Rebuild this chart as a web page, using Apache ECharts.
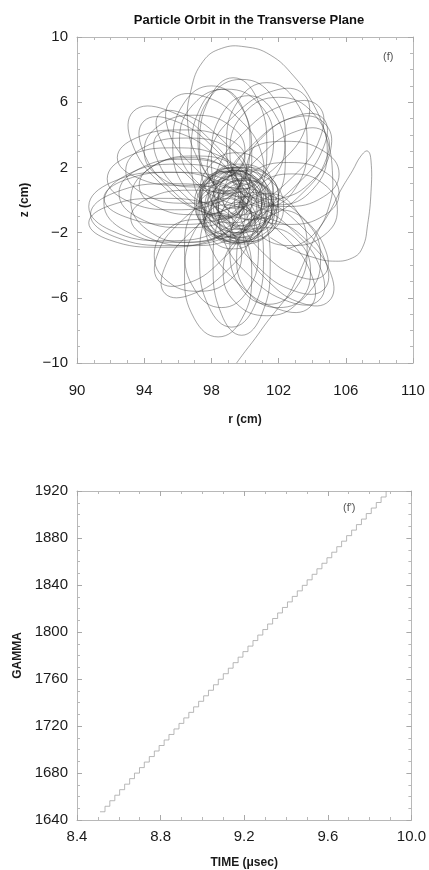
<!DOCTYPE html>
<html><head><meta charset="utf-8">
<script src="https://cdn.jsdelivr.net/npm/echarts@6/dist/echarts.min.js"></script>
<style>html,body{margin:0;padding:0;background:#fff}#c{width:429px;height:870px}</style>
</head><body><div id="c"></div>
<script>
// ---------- Data ----------
const rRange = [90, 110];           // r (cm) axis
const zRange = [-10, 10];           // z (cm) axis
const timeRange = [8.4, 10.0];      // TIME (usec) axis
const gammaRange = [1640, 1920];    // GAMMA axis

// orbit: core rings around the closed orbit (r, z in cm)
const coreLoops = [
 [[100.8,-0.2],[100.45,0.8],[99.6,1.2],[98.75,0.8],[98.4,-0.2],[98.75,-1.2],[99.6,-1.6],[100.45,-1.2]],
 [[101.0,0],[100.53,1.27],[99.4,1.8],[98.27,1.27],[97.8,0],[98.27,-1.27],[99.4,-1.8],[100.53,-1.27]],
 [[101.6,-0.4],[101.07,1.01],[99.8,1.6],[98.53,1.01],[98.0,-0.4],[98.53,-1.81],[99.8,-2.4],[101.07,-1.81]],
 [[101.6,-0.3],[100.98,1.33],[99.5,2.0],[98.02,1.33],[97.4,-0.3],[98.02,-1.93],[99.5,-2.6],[100.98,-1.93]],
 [[102.0,0.1],[101.33,1.58],[99.7,2.2],[98.07,1.58],[97.4,0.1],[98.07,-1.38],[99.7,-2.0],[101.33,-1.38]],
 [[101.3,-0.5],[100.71,1.27],[99.3,2.0],[97.89,1.27],[97.3,-0.5],[97.89,-2.27],[99.3,-3.0],[100.71,-2.27]],
 [[101.4,-0.1],[100.96,1.46],[99.9,2.1],[98.84,1.46],[98.4,-0.1],[98.84,-1.66],[99.9,-2.3],[100.96,-1.66]],
 [[102.0,-0.6],[101.3,0.74],[99.6,1.3],[97.9,0.74],[97.2,-0.6],[97.9,-1.94],[99.6,-2.5],[101.3,-1.94]],
 [[101.1,0.2],[100.54,1.33],[99.2,1.8],[97.86,1.33],[97.3,0.2],[97.86,-0.93],[99.2,-1.4],[100.54,-0.93]],
 [[101.7,-0.3],[101.2,0.76],[100.0,1.2],[98.8,0.76],[98.3,-0.3],[98.8,-1.36],[100.0,-1.8],[101.2,-1.36]],
 [[101.7,0.3],[101.06,2.14],[99.5,2.9],[97.94,2.14],[97.3,0.3],[97.94,-1.54],[99.5,-2.3],[101.06,-1.54]],
 [[101.2,-0.8],[100.79,0.47],[99.8,1.0],[98.81,0.47],[98.4,-0.8],[98.81,-2.07],[99.8,-2.6],[100.79,-2.07]],
 [[101.3,1.5],[100.0,1.8],[98.47,0.93],[97.6,-0.6],[97.9,-1.9],[99.2,-2.2],[100.73,-1.33],[101.6,0.2]],
 [[101.27,-2.17],[101.6,-0.8],[100.7,0.8],[99.1,1.7],[97.73,1.37],[97.4,0.0],[98.3,-1.6],[99.9,-2.5]],
 [[100.7,-0.1],[100.32,1.24],[99.4,1.8],[98.48,1.24],[98.1,-0.1],[98.48,-1.44],[99.4,-2.0],[100.32,-1.44]],
 [[102.3,-0.4],[101.54,1.16],[99.7,1.8],[97.86,1.16],[97.1,-0.4],[97.86,-1.96],[99.7,-2.6],[101.54,-1.96]],
 [[101.0,-0.6],[100.5,0.88],[99.3,1.5],[98.1,0.88],[97.6,-0.6],[98.1,-2.08],[99.3,-2.7],[100.5,-2.08]],
 [[102.0,0.2],[101.44,1.47],[100.1,2.0],[98.76,1.47],[98.2,0.2],[98.76,-1.07],[100.1,-1.6],[101.44,-1.07]],
 [[101.0,-0.2],[100.41,1.14],[99.0,1.7],[97.59,1.14],[97.0,-0.2],[97.59,-1.54],[99.0,-2.1],[100.41,-1.54]],
 [[101.9,-1.0],[101.31,0.2],[99.9,0.7],[98.49,0.2],[97.9,-1.0],[98.49,-2.2],[99.9,-2.7],[101.31,-2.2]],
 [[100.96,1.06],[99.8,1.3],[98.41,0.49],[97.6,-0.9],[97.84,-2.06],[99.0,-2.3],[100.39,-1.49],[101.2,-0.1]],
 [[101.43,-1.63],[101.7,-0.4],[100.86,1.06],[99.4,1.9],[98.17,1.63],[97.9,0.4],[98.74,-1.06],[100.2,-1.9]]
];

// orbit: loops reaching out to the left
const leftLoops = [
 [[100.4,-0.9],[98.99,0.44],[95.6,1.0],[92.21,0.44],[90.8,-0.9],[92.21,-2.24],[95.6,-2.8],[98.99,-2.24]],
 [[100.4,-0.2],[99.11,1.5],[96.0,2.2],[92.89,1.5],[91.6,-0.2],[92.89,-1.9],[96.0,-2.6],[99.11,-1.9]],
 [[100.3,0.4],[99.16,1.88],[96.4,2.5],[93.64,1.88],[92.5,0.4],[93.64,-1.08],[96.4,-1.7],[99.16,-1.08]],
 [[100.4,-1.1],[99.35,0.1],[96.8,0.6],[94.25,0.1],[93.2,-1.1],[94.25,-2.3],[96.8,-2.8],[99.35,-2.3]],
 [[100.3,0.9],[99.33,2.17],[97.0,2.7],[94.67,2.17],[93.7,0.9],[94.67,-0.37],[97.0,-0.9],[99.33,-0.37]],
 [[100.2,0.1],[98.94,1.23],[95.9,1.7],[92.86,1.23],[91.6,0.1],[92.86,-1.03],[95.9,-1.5],[98.94,-1.03]],
 [[99.9,-0.4],[98.55,1.08],[95.3,1.7],[92.05,1.08],[90.7,-0.4],[92.05,-1.88],[95.3,-2.5],[98.55,-1.88]],
 [[99.3,-1.4],[98.04,-0.34],[95.0,0.1],[91.96,-0.34],[90.7,-1.4],[91.96,-2.46],[95.0,-2.9],[98.04,-2.46]],
 [[100.0,0.0],[99.0,1.84],[96.6,2.6],[94.2,1.84],[93.2,0.0],[94.2,-1.84],[96.6,-2.6],[99.0,-1.84]]
];

// orbit: loops reaching upward (upper-left, up, upper-right)
const upperLoops = [
 [[99.63,-0.83],[99.7,0.9],[98.07,3.27],[95.7,4.9],[93.97,4.83],[93.9,3.1],[95.53,0.73],[97.9,-0.9]],
 [[99.6,-0.8],[99.65,0.65],[98.26,2.66],[96.25,4.05],[94.8,4.0],[94.75,2.55],[96.14,0.54],[98.15,-0.85]],
 [[99.44,-0.64],[99.55,1.25],[97.81,3.81],[95.25,5.55],[93.36,5.44],[93.25,3.55],[94.99,0.99],[97.55,-0.75]],
 [[100.1,1.8],[99.05,3.21],[96.5,3.8],[93.95,3.21],[92.9,1.8],[93.95,0.39],[96.5,-0.2],[99.05,0.39]],
 [[99.8,1.3],[98.63,2.64],[95.8,3.2],[92.97,2.64],[91.8,1.3],[92.97,-0.04],[95.8,-0.6],[98.63,-0.04]],
 [[100.0,2.6],[98.89,3.8],[96.2,4.3],[93.51,3.8],[92.4,2.6],[93.51,1.4],[96.2,0.9],[98.89,1.4]],
 [[100.0,3.0],[99.12,4.56],[97.0,5.2],[94.88,4.56],[94.0,3.0],[94.88,1.44],[97.0,0.8],[99.12,1.44]],
 [[100.29,-0.09],[100.25,1.45],[98.66,3.66],[96.45,5.25],[94.91,5.29],[94.95,3.75],[96.54,1.54],[98.75,-0.05]],
 [[100.4,2.8],[99.87,5.63],[98.6,6.8],[97.33,5.63],[96.8,2.8],[97.33,-0.03],[98.6,-1.2],[99.87,-0.03]],
 [[101.3,3.2],[100.71,6.24],[99.3,7.5],[97.89,6.24],[97.3,3.2],[97.89,0.16],[99.3,-1.1],[100.71,0.16]],
 [[102.4,2.6],[101.76,5.29],[100.2,6.4],[98.64,5.29],[98.0,2.6],[98.64,-0.09],[100.2,-1.2],[101.76,-0.09]],
 [[100.3,3.4],[99.63,5.95],[98.0,7.0],[96.37,5.95],[95.7,3.4],[96.37,0.85],[98.0,-0.2],[99.63,0.85]],
 [[102.4,3.8],[101.64,6.35],[99.8,7.4],[97.96,6.35],[97.2,3.8],[97.96,1.25],[99.8,0.2],[101.64,1.25]],
 [[101.7,3.6],[100.88,5.86],[98.9,6.8],[96.92,5.86],[96.1,3.6],[96.92,1.34],[98.9,0.4],[100.88,1.34]],
 [[100.75,1.05],[101.0,2.8],[99.61,5.01],[97.4,6.4],[95.65,6.15],[95.4,4.4],[96.79,2.19],[99.0,0.8]],
 [[103.49,6.49],[101.7,6.7],[99.39,5.21],[97.9,2.9],[98.11,1.11],[99.9,0.9],[102.21,2.39],[103.7,4.7]],
 [[104.63,5.03],[102.9,5.1],[100.53,3.47],[98.9,1.1],[98.97,-0.63],[100.7,-0.7],[103.07,0.93],[104.7,3.3]],
 [[104.37,5.77],[102.5,5.9],[99.99,4.21],[98.3,1.7],[98.43,-0.17],[100.3,-0.3],[102.81,1.39],[104.5,3.9]],
 [[104.75,4.15],[103.15,4.25],[101.0,2.8],[99.55,0.65],[99.65,-0.95],[101.25,-1.05],[103.4,0.4],[104.85,2.55]],
 [[103.7,3.4],[103.0,6.09],[101.3,7.2],[99.6,6.09],[98.9,3.4],[99.6,0.71],[101.3,-0.4],[103.0,0.71]],
 [[104.9,3.0],[104.05,5.33],[102.0,6.3],[99.95,5.33],[99.1,3.0],[99.95,0.67],[102.0,-0.3],[104.05,0.67]],
 [[104.72,4.72],[103.1,5.1],[101.19,4.01],[100.1,2.1],[100.48,0.48],[102.1,0.1],[104.01,1.19],[105.1,3.1]]
];

// orbit: loops reaching right, lower-right and down
const lowerLoops = [
 [[105.6,0.4],[104.72,1.74],[102.6,2.3],[100.48,1.74],[99.6,0.4],[100.48,-0.94],[102.6,-1.5],[104.72,-0.94]],
 [[105.5,-0.6],[104.71,0.96],[102.8,1.6],[100.89,0.96],[100.1,-0.6],[100.89,-2.16],[102.8,-2.8],[104.71,-2.16]],
 [[105.6,1.6],[104.66,3.01],[102.4,3.6],[100.14,3.01],[99.2,1.6],[100.14,0.19],[102.4,-0.4],[104.66,0.19]],
 [[104.69,-5.49],[104.8,-3.8],[103.27,-1.53],[101.0,0.0],[99.31,-0.11],[99.2,-1.8],[100.73,-4.07],[103.0,-5.6]],
 [[104.43,-6.13],[104.55,-4.35],[102.94,-1.96],[100.55,-0.35],[98.77,-0.47],[98.65,-2.25],[100.26,-4.64],[102.65,-6.25]],
 [[104.7,-4.6],[104.8,-3.1],[103.43,-1.07],[101.4,0.3],[99.9,0.2],[99.8,-1.3],[101.17,-3.33],[103.2,-4.7]],
 [[105.0,-6.2],[105.15,-4.65],[103.8,-2.6],[101.75,-1.25],[100.2,-1.4],[100.05,-2.95],[101.4,-5.0],[103.45,-6.35]],
 [[103.7,-3.0],[103.03,-0.6],[101.4,0.4],[99.77,-0.6],[99.1,-3.0],[99.77,-5.4],[101.4,-6.4],[103.03,-5.4]],
 [[104.5,-3.6],[103.77,-1.48],[102.0,-0.6],[100.23,-1.48],[99.5,-3.6],[100.23,-5.72],[102.0,-6.6],[103.77,-5.72]],
 [[103.9,-4.4],[103.14,-2.49],[101.3,-1.7],[99.46,-2.49],[98.7,-4.4],[99.46,-6.31],[101.3,-7.1],[103.14,-6.31]],
 [[103.87,-6.57],[104.0,-4.7],[102.31,-2.19],[99.8,-0.5],[97.93,-0.63],[97.8,-2.5],[99.49,-5.01],[102.0,-6.7]],
 [[101.1,-3.6],[100.54,-0.63],[99.2,0.6],[97.86,-0.63],[97.3,-3.6],[97.86,-6.57],[99.2,-7.8],[100.54,-6.57]],
 [[101.5,-3.9],[101.0,-0.79],[99.8,0.5],[98.6,-0.79],[98.1,-3.9],[98.6,-7.01],[99.8,-8.3],[101.0,-7.01]],
 [[100.8,-3.0],[100.16,-0.45],[98.6,0.6],[97.04,-0.45],[96.4,-3.0],[97.04,-5.55],[98.6,-6.6],[100.16,-5.55]],
 [[100.4,-4.6],[99.81,-1.91],[98.4,-0.8],[96.99,-1.91],[96.4,-4.6],[96.99,-7.29],[98.4,-8.4],[99.81,-7.29]],
 [[99.7,-0.2],[98.15,-0.05],[96.1,-1.4],[94.75,-3.45],[94.9,-5.0],[96.45,-5.15],[98.5,-3.8],[99.85,-1.75]],
 [[100.35,-0.65],[98.8,-0.6],[96.67,-2.07],[95.2,-4.2],[95.25,-5.75],[96.8,-5.8],[98.93,-4.33],[100.4,-2.2]],
 [[99.8,-3.4],[99.04,-1.84],[97.2,-1.2],[95.36,-1.84],[94.6,-3.4],[95.36,-4.96],[97.2,-5.6],[99.04,-4.96]]
];

// orbit: the large excursion to the top (open path)
const topPath = [[98.5,0.5],[97.2,2.5],[96.6,4.6],[96.8,6.8],[97.5,8.5],[98.6,9.3],[100.0,9.4],[101.5,8.9],
 [102.9,7.6],[104.0,6.0],[104.8,4.0],[105.2,1.8],[105.0,-0.4],[104.0,-2.2],[102.5,-3.0]];

// orbit: entry trail from the bottom edge and the narrow lobe on the right (open path)
const trailPath = [[99.5,-10.0],[100.0,-9.3],[100.6,-8.5],[101.3,-7.5],[102.0,-6.6],[102.6,-5.8],[103.0,-5.0],
 [103.6,-3.6],[104.3,-2.0],[105.0,-0.8],[105.7,0.6],[106.4,1.8],[106.9,2.7],[107.3,3.0],[107.5,2.4],
 [107.5,0.5],[107.3,-1.5],[107.0,-2.9],[106.4,-3.55],[105.2,-3.75],[104.0,-3.5],[102.7,-3.0],[101.5,-2.3]];

// energy staircase: corner points (TIME in usec, GAMMA)
const timeSteps = [8.510,8.534,8.557,8.581,8.604,8.628,8.652,8.675,8.699,8.722,8.746,8.770,8.793,8.817,8.840,
 8.864,8.888,8.911,8.935,8.958,8.982,9.006,9.029,9.053,9.076,9.100,9.124,9.147,9.171,9.194,9.218,9.242,9.265,
 9.289,9.312,9.336,9.360,9.383,9.407,9.430,9.454,9.478,9.501,9.525,9.548,9.572,9.596,9.619,9.643,9.666,9.690,
 9.714,9.737,9.761,9.784,9.808,9.832,9.855,9.879];
const gammaSteps = [1647.0,1651.7,1656.4,1661.1,1665.8,1670.5,1675.2,1679.9,1684.6,1689.3,1694.0,1698.7,1703.4,
 1708.1,1712.8,1717.5,1722.2,1726.9,1731.6,1736.3,1741.0,1745.7,1750.4,1755.1,1759.8,1764.5,1769.2,1773.9,
 1778.6,1783.3,1788.0,1792.7,1797.4,1802.1,1806.8,1811.5,1816.2,1820.9,1825.6,1830.3,1835.0,1839.7,1844.4,
 1849.1,1853.8,1858.5,1863.2,1867.9,1872.6,1877.3,1882.0,1886.7,1891.4,1896.1,1900.8,1905.5,1910.2,1914.9,1920.0];

// ---------- Chart ----------
const FONT = '"Liberation Sans", Arial, Helvetica, sans-serif';
const minus = v => String(v).replace('-', '\u2212');

function axis(kind, grid, range, interval, pos, fmt, name, nameGap, margin) {
  const a = {
    type: 'value', gridIndex: grid, min: range[0], max: range[1], interval: interval, position: pos,
    axisLine: { show: true, onZero: false, lineStyle: { color: '#b8b8b8', width: 1 } },
    axisTick: { show: true, inside: true, length: 5, lineStyle: { color: '#a8a8a8', width: 1 } },
    minorTick: { show: true, splitNumber: 4, length: 3, lineStyle: { color: '#b8b8b8', width: 1 } },
    splitLine: { show: false },
    axisLabel: { show: !!fmt, fontFamily: FONT, fontSize: 15, color: '#1a1a1a', margin: margin || 8, formatter: fmt }
  };
  if (name) {
    a.name = name; a.nameLocation = 'middle'; a.nameGap = nameGap;
    a.nameTextStyle = { fontFamily: FONT, fontSize: 12, fontWeight: 'bold', color: '#1a1a1a' };
  }
  return a;
}

const orbitStroke = 'rgba(55,55,55,0.5)';
const series = [];
function addLoop(pts, closed) {
  series.push({
    type: 'custom', xAxisIndex: 0, yAxisIndex: 0, clip: true, silent: true,
    encode: { x: 0, y: 1 },
    data: pts,
    renderItem: function (params, api) {
      if (params.dataIndex !== 0) return null;
      const px = pts.map(p => api.coord(p));
      return {
        type: closed ? 'polygon' : 'polyline',
        shape: { points: px, smooth: 0.45 },
        style: { fill: null, stroke: orbitStroke, lineWidth: 0.9 },
        silent: true
      };
    }
  });
}
[coreLoops, leftLoops, upperLoops, lowerLoops].forEach(g => g.forEach(l => addLoop(l, true)));
addLoop(topPath, false);
addLoop(trailPath, false);

series.push({ type: 'line', xAxisIndex: 2, yAxisIndex: 2, step: 'end', symbol: 'none', clip: true,
  data: timeSteps.map((t, i) => [t, gammaSteps[i]]),
  lineStyle: { color: '#a6a6a6', width: 0.8 } });

const chart = echarts.init(document.getElementById('c'), null, { renderer: 'canvas' });
chart.setOption({
  animation: false,
  backgroundColor: '#fff',
  title: { text: 'Particle Orbit in the Transverse Plane', left: 244, top: 9, textAlign: 'center',
    textStyle: { fontFamily: FONT, fontSize: 13, fontWeight: 'bold', color: '#111' } },
  grid: [
    { left: 77, top: 37, width: 336, height: 326 },
    { left: 77, top: 491, width: 338, height: 329 }
  ],
  xAxis: [
    axis('x', 0, rRange, 4, 'bottom', minus, 'r (cm)', 51, 20),
    axis('x', 0, rRange, 4, 'top', null),
    axis('x', 1, timeRange, 0.4, 'bottom', v => v.toFixed(1), 'TIME (\u03bcsec)', 37, 9),
    axis('x', 1, timeRange, 0.4, 'top', null)
  ],
  yAxis: [
    axis('y', 0, zRange, 4, 'left', minus, 'z (cm)', 46, 9),
    axis('y', 0, zRange, 4, 'right', null),
    axis('y', 1, gammaRange, 40, 'left', v => String(v), 'GAMMA', 46, 9),
    axis('y', 1, gammaRange, 40, 'right', null)
  ],
  graphic: [
    { type: 'text', left: 383, top: 51, style: { text: '(f)', font: '11px ' + FONT, fill: '#555' } },
    { type: 'text', left: 343, top: 502, style: { text: "(f')", font: '11px ' + FONT, fill: '#555' } }
  ],
  series: series
});
</script></body></html>
